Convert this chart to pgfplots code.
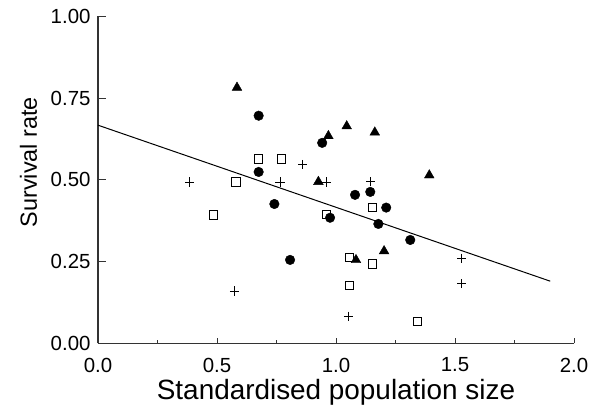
\documentclass[border=0pt]{standalone}
\usepackage{fontspec}
\setmainfont{Liberation Sans}
\usepackage{pgfplots}
\pgfplotsset{compat=1.18}
\definecolor{axisgray}{HTML}{333333}

\pgfplotstableread{
x y
0.584 0.782
0.968 0.634
1.045 0.664
1.163 0.645
0.926 0.494
1.392 0.514
1.084 0.255
1.202 0.282
}\triangles

\pgfplotstableread{
x y
0.675 0.696
0.942 0.613
0.675 0.524
1.080 0.454
1.144 0.463
1.211 0.415
0.975 0.384
1.178 0.365
1.312 0.316
0.741 0.426
0.807 0.255
}\circles

\pgfplotstableread{
x y
0.675 0.564
0.770 0.564
0.579 0.493
1.153 0.415
0.961 0.394
1.056 0.262
1.153 0.243
1.056 0.176
1.342 0.066
0.484 0.392
}\squares

\pgfplotstableread{
x y
0.385 0.493
0.765 0.493
0.860 0.547
0.958 0.493
1.146 0.494
1.528 0.260
1.528 0.182
1.052 0.083
0.573 0.160
}\pluses

\pgfplotsset{
  base/.style={
    scale only axis, width=476bp, height=327bp,
    xmin=0, xmax=2, ymin=0, ymax=1,
    clip=false,
    tick align=inside,
    ticklabel style={font=\fontsize{20.5}{24}\selectfont},
    axis line style={axisgray, line width=1.2bp},
    tick style={axisgray, line width=1bp},
  }
}

\begin{document}
\begin{tikzpicture}
% x axis only
\begin{axis}[base,
  axis x line*=bottom, hide y axis,
  xtick={0,0.5,1,1.5,2},
  xticklabels={0.0,0.5,1.0,1.5,2.0},
  minor xtick={0.25,0.75,1.25,1.75},
  major tick length=5bp, minor tick length=3bp,
  xticklabel style={yshift=-11bp},
  xlabel={Standardised population size},
  xlabel style={font=\fontsize{28}{32}\selectfont, at={(axis description cs:0.5,0)}, anchor=base, yshift=-56bp},
]
\end{axis}
% y axis and data
\begin{axis}[base,
  axis y line*=left, hide x axis,
  ytick={0,0.25,0.5,0.75,1},
  yticklabels={0.00,0.25,0.50,0.75,1.00},
  major tick length=8bp,
  yticklabel style={xshift=-4bp},
  ylabel={Survival rate},
  ylabel style={font=\fontsize{23.5}{28}\selectfont, at={(axis description cs:0,0.554)}, anchor=base, rotate=0, yshift=61bp},
]
\addplot[black, line width=1bp] coordinates {(0,0.667) (1.90,0.190)};
\addplot[only marks, mark=triangle*, mark size=5.6bp, black] table {\triangles};
\addplot[only marks, mark=*, mark size=4.8bp, black] table {\circles};
\addplot[only marks, mark=square, mark size=4.2bp, black, line width=0.9bp, fill=white] table {\squares};
\addplot[only marks, mark=+, mark size=4.6bp, black, line width=0.8bp] table {\pluses};
\end{axis}
\pgfresetboundingbox
\path (-98bp,-70.7bp) rectangle (497bp,343.3bp);
\end{tikzpicture}
\end{document}
